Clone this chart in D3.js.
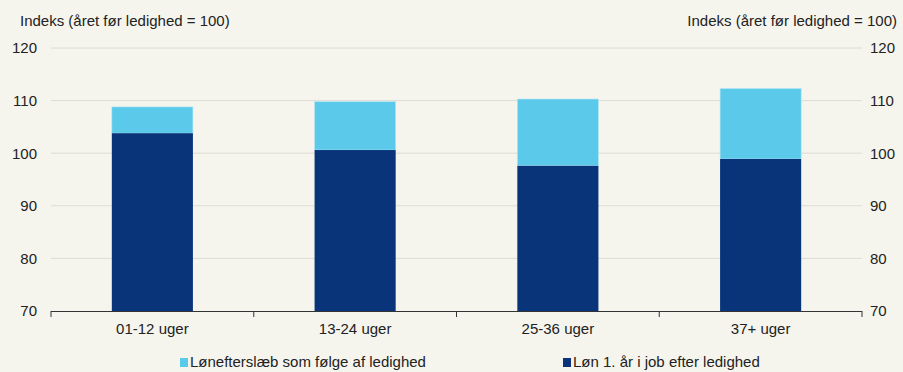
<!DOCTYPE html>
<html><head><meta charset="utf-8">
<script src="https://cdn.jsdelivr.net/npm/d3@7"></script>
<style>body{margin:0;background:#f5f5ee;}svg{display:block;font-family:"Liberation Sans",Arial,sans-serif;}</style>
</head><body><svg id="c" width="903" height="372"></svg>
<script>
const categories = ["01-12 uger","13-24 uger","25-36 uger","37+ uger"];
const lonValues = [103.8, 100.6, 97.6, 98.9];
const totalValues = [108.8, 109.8, 110.3, 112.3];
const yTicks = [70,80,90,100,110,120];
const seriesNames = ["Lønefterslæb som følge af ledighed","Løn 1. år i job efter ledighed"];
const colors = ["#5bcaea","#0a347a"];

(function(){
const svg = d3.select("#c");
svg.append("rect").attr("width",903).attr("height",372).attr("fill","#f5f5ee");
const pLeft=51,pRight=862,pTop=48,pBottom=311;
const x = d3.scaleBand().domain(categories).range([pLeft,pRight]).paddingInner(0.6).paddingOuter(0.3);
const y = d3.scaleLinear().domain([70,120]).range([pBottom,pTop]);

svg.append("g").selectAll("line").data(yTicks.filter(t=>t>70)).join("line")
  .attr("x1",pLeft).attr("x2",pRight).attr("y1",d=>y(d)).attr("y2",d=>y(d))
  .attr("stroke","#dcdcd3").attr("stroke-width",1);

const g = svg.append("g");
g.selectAll("rect.tp").data(categories).join("rect").attr("class","tp")
  .attr("x",d=>x(d)).attr("width",x.bandwidth())
  .attr("y",(d,i)=>y(totalValues[i])).attr("height",(d,i)=>y(lonValues[i])-y(totalValues[i]))
  .attr("fill",colors[0]).attr("stroke","#b8e6f4").attr("stroke-width",0.6);
g.selectAll("rect.bt").data(categories).join("rect").attr("class","bt")
  .attr("x",d=>x(d)).attr("width",x.bandwidth())
  .attr("y",(d,i)=>y(lonValues[i])).attr("height",(d,i)=>y(70)-y(lonValues[i]))
  .attr("fill",colors[1]);

const fs = 15;
const yl = d3.axisLeft(y).tickValues(yTicks).tickSize(0).tickPadding(0);
const gl = svg.append("g").attr("transform","translate(37,0)").call(yl);
gl.select(".domain").remove();
gl.selectAll("text").attr("font-size",fs).attr("fill","#222").attr("font-family","Liberation Sans, Arial");
const yr = d3.axisRight(y).tickValues(yTicks).tickSize(0).tickPadding(0);
const gr = svg.append("g").attr("transform","translate(870,0)").call(yr);
gr.select(".domain").remove();
gr.selectAll("text").attr("font-size",fs).attr("fill","#222").attr("font-family","Liberation Sans, Arial");

const xa = d3.axisBottom(x).tickSize(0).tickPadding(12);
const gx = svg.append("g").attr("transform",`translate(0,${pBottom})`).call(xa);
gx.select(".domain").remove();
gx.selectAll("text").attr("font-size",fs).attr("fill","#222").attr("font-family","Liberation Sans, Arial");
svg.append("line").attr("x1",pLeft).attr("x2",pRight).attr("y1",pBottom+0.5).attr("y2",pBottom+0.5).attr("stroke","#333").attr("stroke-width",1.2);
const bounds = [pLeft].concat(categories.map(c=>x(c)+x.bandwidth()+x.step()*x.paddingInner()/2));
bounds[bounds.length-1]=pRight;
svg.append("g").selectAll("line").data(bounds).join("line")
  .attr("x1",d=>d).attr("x2",d=>d).attr("y1",pBottom).attr("y2",pBottom+6)
  .attr("stroke","#333").attr("stroke-width",1);

svg.append("text").attr("x",20).attr("y",26).attr("font-size",fs).attr("fill","#222").text("Indeks (året før ledighed = 100)");
svg.append("text").attr("x",897).attr("y",26).attr("text-anchor","end").attr("font-size",fs).attr("fill","#222").text("Indeks (året før ledighed = 100)");

[{x:180,i:0},{x:563,i:1}].forEach(l=>{
  svg.append("rect").attr("x",l.x).attr("y",358).attr("width",8).attr("height",9).attr("fill",colors[l.i]);
  svg.append("text").attr("x",l.x+10).attr("y",367).attr("font-size",fs).attr("fill","#222").text(seriesNames[l.i]);
});
})();
</script></body></html>
